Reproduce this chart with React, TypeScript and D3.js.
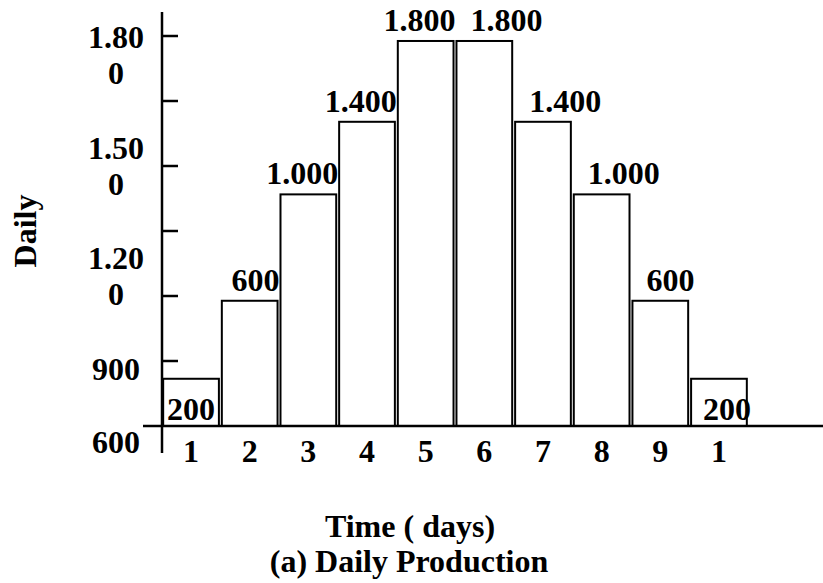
import React from "react";
import * as d3 from "d3";

// ---- data ----
const days: number[] = [1, 2, 3, 4, 5, 6, 7, 8, 9, 10];
const dayTickLabels: string[] = ["1", "2", "3", "4", "5", "6", "7", "8", "9", "1"];
// bar heights
const barHeights: number[] = [218, 578, 1069, 1404, 1777, 1777, 1404, 1069, 578, 218];
// printed value labels on the bars
const barLabels: string[] = ["200", "600", "1.000", "1.400", "1.800", "1.800", "1.400", "1.000", "600", "200"];
const yTickValues: number[] = [300, 600, 900, 1200, 1500, 1800];
const yAxisLabels: string[] = ["1.800", "1.500", "1.200", "900"];
const yOriginLabel = "600";
const yTitle = "Daily";
const xTitle = "Time ( days)";
const chartTitle = "(a) Daily Production";

const W = 823;
const H = 583;
const FONT = "'Liberation Serif', 'Times New Roman', serif";
const FS = 32;

export default function App() {
  const baseY = 426;
  const axisX = 162;
  const x = d3.scaleBand<number>().domain(days).range([162, 748]).paddingInner(0.05).paddingOuter(0.02);
  const y = d3.scaleLinear().domain([0, 1800]).range([baseY, 36]);
  const labelY = d3.scalePoint<string>().domain(yAxisLabels).range([48, 380]);

  const wrap = (s: string): string[] => (s.length > 4 ? [s.slice(0, 4), s.slice(4)] : [s]);
  const half = days.length / 2;

  return (
    <svg width={W} height={H} style={{ position: "absolute", left: 0, top: 0, background: "#fff" }}>
      {/* bars */}
      {days.map((d, i) => (
        <rect
          key={"b" + d}
          x={x(d)!}
          y={y(barHeights[i])}
          width={x.bandwidth()}
          height={baseY - y(barHeights[i])}
          fill="#fff"
          stroke="#000"
          strokeWidth={2}
        />
      ))}
      {/* value labels */}
      {days.map((d, i) => {
        const inside = barHeights[i] < 400;
        const left = x(d)!;
        const right = left + x.bandwidth();
        const rightSide = i >= half;
        let tx: number;
        let anchor: "start" | "middle" | "end";
        if (inside) {
          anchor = rightSide ? "start" : "middle";
          tx = rightSide ? left + 12 : left + x.bandwidth() / 2;
        } else if (rightSide) {
          anchor = "start";
          tx = left + 14;
        } else {
          anchor = "end";
          tx = right + 2;
        }
        return (
          <text
            key={"v" + d}
            x={tx}
            y={inside ? baseY - 6 : y(barHeights[i]) - 10}
            textAnchor={anchor}
            fontFamily={FONT}
            fontWeight="bold"
            fontSize={FS}
          >
            {barLabels[i]}
          </text>
        );
      })}
      {/* x axis baseline */}
      <line x1={143} x2={W} y1={baseY} y2={baseY} stroke="#000" strokeWidth={2.5} />
      {/* y axis */}
      <line x1={axisX} x2={axisX} y1={12} y2={453} stroke="#000" strokeWidth={2.5} />
      {yTickValues.map((v) => (
        <line key={"t" + v} x1={axisX} x2={axisX + 16} y1={y(v)} y2={y(v)} stroke="#000" strokeWidth={2.5} />
      ))}
      {/* y axis labels */}
      {yAxisLabels.map((l) => (
        <text key={"yl" + l} x={116} y={labelY(l)!} textAnchor="middle" fontFamily={FONT} fontWeight="bold" fontSize={FS}>
          {wrap(l).map((part, j) => (
            <tspan key={j} x={116} dy={j === 0 ? 0 : 36}>
              {part}
            </tspan>
          ))}
        </text>
      ))}
      <text x={116} y={baseY + 27} textAnchor="middle" fontFamily={FONT} fontWeight="bold" fontSize={FS}>
        {yOriginLabel}
      </text>
      {/* x tick labels */}
      {days.map((d, i) => (
        <text
          key={"x" + d}
          x={x(d)! + x.bandwidth() / 2}
          y={baseY + 36}
          textAnchor="middle"
          fontFamily={FONT}
          fontWeight="bold"
          fontSize={FS}
        >
          {dayTickLabels[i]}
        </text>
      ))}
      {/* titles */}
      <text
        transform={`translate(36,231) rotate(-90)`}
        textAnchor="middle"
        fontFamily={FONT}
        fontWeight="bold"
        fontSize={FS}
      >
        {yTitle}
      </text>
      <text x={410} y={537} textAnchor="middle" fontFamily={FONT} fontWeight="bold" fontSize={FS}>
        {xTitle}
      </text>
      <text x={409} y={572} textAnchor="middle" fontFamily={FONT} fontWeight="bold" fontSize={FS}>
        {chartTitle}
      </text>
    </svg>
  );
}
